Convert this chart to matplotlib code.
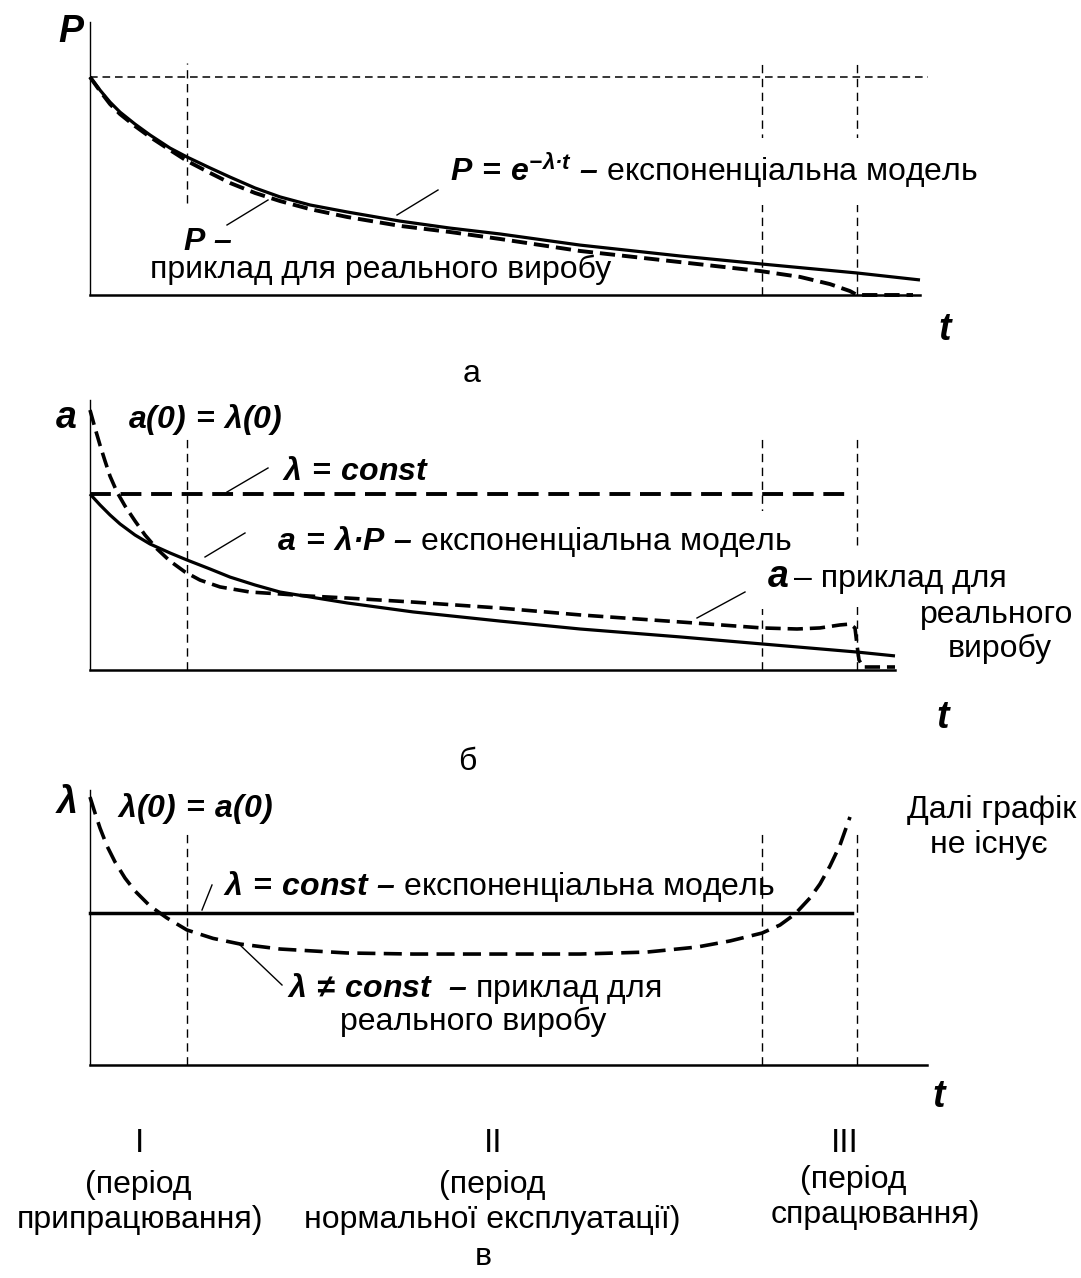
import matplotlib
matplotlib.use('Agg')
import matplotlib.pyplot as plt
from matplotlib.lines import Line2D
from matplotlib.patches import Rectangle

plt.rcParams['font.family'] = ['Liberation Sans', 'DejaVu Sans']
plt.rcParams['mathtext.fontset'] = 'custom'
for k in ('rm', 'it', 'bf', 'sf'):
    plt.rcParams['mathtext.' + k] = 'Liberation Sans:bold:italic'
plt.rcParams['lines.scale_dashes'] = False

W, H, DPI = 1081, 1278, 100
FS = 23
FS_AX = 27

# ---------------- data ----------------
# boundaries of periods I, II, III (time units)
t_bounds = [0.97, 6.72, 7.67]

# panel a: probability of failure-free operation P(t)
ta_model = [0.0, 0.10, 0.20, 0.30, 0.45, 0.60, 0.80, 0.97, 1.20, 1.40, 1.65, 1.90, 2.20, 2.57,
            3.10, 3.60, 4.10, 4.90, 5.90, 6.72, 7.67, 8.30]
Pa_model = [1.0, 0.940, 0.885, 0.839, 0.784, 0.734, 0.674, 0.633, 0.583, 0.541, 0.491, 0.450, 0.413, 0.381,
            0.339, 0.307, 0.280, 0.229, 0.179, 0.142, 0.101, 0.069]
ta_real = [0.0, 0.10, 0.20, 0.30, 0.45, 0.60, 0.80, 0.97, 1.20, 1.40, 1.65, 1.90, 2.20, 2.57,
           3.10, 3.60, 4.10, 4.90, 5.90, 6.70, 7.10, 7.40, 7.60, 7.67, 8.23]
Pa_real = [1.0, 0.936, 0.876, 0.830, 0.775, 0.725, 0.665, 0.615, 0.560, 0.514, 0.468, 0.431, 0.394, 0.358,
           0.317, 0.289, 0.257, 0.202, 0.151, 0.110, 0.083, 0.050, 0.018, 0.0, 0.0]
Pa_level = 1.0
ta_level_end = 8.38

# panel b: failure density a(t)
tb_model = [0.0, 0.10, 0.20, 0.30, 0.45, 0.60, 0.80, 0.97, 1.20, 1.40, 1.65, 1.90, 2.20, 2.57,
            3.23, 4.10, 4.90, 5.90, 6.72, 7.67, 8.05]
ab_model = [1.0, 0.938, 0.881, 0.830, 0.767, 0.716, 0.665, 0.625, 0.574, 0.528, 0.483, 0.443, 0.415, 0.381,
            0.330, 0.278, 0.233, 0.188, 0.148, 0.102, 0.080]
tb_real = [0.0, 0.05, 0.10, 0.15, 0.20, 0.27, 0.35, 0.45, 0.55, 0.67, 0.80, 0.95, 1.10, 1.30, 1.60, 1.90,
           2.20, 2.57, 3.23, 4.10, 4.90, 5.90, 6.72, 7.07, 7.30, 7.50, 7.60, 7.65, 7.67, 7.69, 7.73, 8.05]
ab_real = [1.477, 1.375, 1.278, 1.188, 1.102, 1.011, 0.932, 0.847, 0.767, 0.688, 0.619, 0.557, 0.511, 0.472,
           0.443, 0.432, 0.420, 0.409, 0.386, 0.352, 0.313, 0.273, 0.239, 0.233, 0.239, 0.256, 0.261, 0.239,
           0.142, 0.057, 0.017, 0.017]
lam_b = 1.0
tb_lam_end = 7.63

# panel c: failure rate lambda(t)
tc_model = [0.0, 7.62]
lc_model = [1.0, 1.0]
tc_real = [0.0, 0.05, 0.10, 0.17, 0.25, 0.35, 0.45, 0.60, 0.77, 0.97, 1.23, 1.50, 1.90, 2.57, 3.23, 4.90,
           5.57, 6.07, 6.40, 6.72, 6.90, 7.05, 7.20, 7.30, 7.40, 7.50, 7.60]
lc_real = [1.763, 1.658, 1.559, 1.441, 1.336, 1.230, 1.145, 1.046, 0.967, 0.888, 0.833, 0.796, 0.763, 0.737,
           0.730, 0.730, 0.743, 0.776, 0.816, 0.868, 0.921, 0.993, 1.099, 1.191, 1.309, 1.447, 1.632]

period_numbers = ['I', 'II', 'III']
period_line1 = ['(період', '(період', '(період']
period_line2 = ['припрацювання)', 'нормальної експлуатації)', 'спрацювання)']
panel_letters = ['а', 'б', 'в']

# ---------------- figure ----------------
fig = plt.figure(figsize=(W / DPI, H / DPI), dpi=DPI)
fig.patch.set_facecolor('white')


def add_panel(x1, y0, y1, scale):
    x0 = 90
    ax = fig.add_axes([x0 / W, 1 - y1 / H, (x1 - x0) / W, (y1 - y0) / H])
    ax.set_xlim(0, (x1 - x0) / 100.0)
    ax.set_ylim(0, (y1 - y0) / scale)
    ax.set_xticks([])
    ax.set_yticks([])
    ax.patch.set_visible(False)
    for s in ('top', 'right'):
        ax.spines[s].set_visible(False)
    ax.spines['left'].set_linewidth(1.0)
    ax.spines['bottom'].set_linewidth(1.8)
    return ax


def ftext(px, py, s, ha='left', size=FS, **kw):
    return fig.text(px / W, 1 - py / H, s, ha=ha, va='baseline', fontsize=size, **kw)


def leader(p0, p1):
    fig.add_artist(Line2D([p0[0] / W, p1[0] / W], [1 - p0[1] / H, 1 - p1[1] / H],
                          transform=fig.transFigure, color='k', lw=1.0, zorder=5))


def blank(x0, y0, x1, y1):
    fig.add_artist(Rectangle((x0 / W, 1 - y1 / H), (x1 - x0) / W, (y1 - y0) / H,
                             transform=fig.transFigure, fc='white', ec='none', zorder=2.9))


BOX = dict(boxstyle='square,pad=0.42', fc='white', ec='none')
SOLID = dict(color='k', lw=2.3, clip_on=False, solid_capstyle='butt', solid_joinstyle='round')
THIN = dict(color='k', lw=1.0, linestyle=(0, (6, 4)), clip_on=False)

# ---- panel a ----
axa = add_panel(920, 22, 295, 218.0)
axa.plot([0, ta_level_end], [Pa_level, Pa_level], color='k', lw=1.1, linestyle=(0, (5.5, 3.5)), clip_on=False)
axa.plot([t_bounds[0]] * 2, [0.422, 1.064], **THIN)
for tb in t_bounds[1:]:
    axa.plot([tb, tb], [0, 1.064], **THIN)
axa.plot(ta_model, Pa_model, **SOLID)
axa.plot(ta_real, Pa_real, color='k', lw=2.8, linestyle=(0, (11, 5)), clip_on=False)

ftext(58, 42, r'$\mathbf{P}$', size=FS_AX)
ftext(450, 182, r'$\mathbf{P\,=\,e^{-\lambda·t}\ –}$ експоненціальна модель', bbox=BOX)
ftext(183, 250, r'$\mathbf{P\ –}$')
ftext(150, 278, 'приклад для реального виробу')
ftext(938, 340, r'$\mathbf{t}$', size=FS_AX)
ftext(472, 382, panel_letters[0], ha='center')
leader((397, 215), (438, 190))
leader((227, 225), (268, 200))

# ---- panel b ----
axb = add_panel(895, 400, 670, 176.0)
for tb in t_bounds:
    axb.plot([tb, tb], [0, 1.324], **THIN)
axb.plot([0, tb_lam_end], [lam_b, lam_b], color='k', lw=2.8, linestyle=(0, (15, 7)), clip_on=False)
axb.plot(tb_model, ab_model, **SOLID)
axb.plot(tb_real, ab_real, color='k', lw=2.6, linestyle=(0, (11, 5)), clip_on=False)

ftext(55, 428, r'$\mathbf{a}$', size=FS_AX)
ftext(128, 428, r'$\mathbf{a(0)\,=\,\lambda(0)}$')
ftext(282, 480, r'$\mathbf{\lambda\,=\,const}$')
ftext(277, 550, r'$\mathbf{a\,=\,\lambda·P\ –}$ експоненціальна модель', bbox=BOX)
blank(754, 545, 796, 609)
ftext(767, 587, r'$\mathbf{a}$', size=FS_AX, zorder=4)
ftext(794, 587, '– приклад для', bbox=BOX, zorder=3)
ftext(997, 623, 'реального', ha='center')
ftext(1000, 657, 'виробу', ha='center')
ftext(936, 728, r'$\mathbf{t}$', size=FS_AX)
ftext(467, 770, panel_letters[1], ha='center')
leader((227, 492), (268, 468))
leader((205, 557), (245, 533))
leader((697, 618), (745, 592))

# ---- panel c ----
axc = add_panel(927, 790, 1065, 152.0)
for tb in t_bounds:
    axc.plot([tb, tb], [0, 1.533], **THIN)
axc.plot(tc_model, lc_model, color='k', lw=2.5, clip_on=False)
axc.plot(tc_real, lc_real, color='k', lw=2.6, linestyle=(0, (13, 6)), clip_on=False)

ftext(55, 813, r'$\mathbf{\lambda}$', size=FS_AX)
ftext(117, 817, r'$\mathbf{\lambda(0)\,=\,a(0)}$')
ftext(223, 895, r'$\mathbf{\lambda\,=\,const\ –}$ експоненціальна модель')
ftext(287, 997, r'$\mathbf{\lambda\,\neq\,const\ \ –}$ приклад для')
ftext(340, 1030, 'реального виробу')
ftext(907, 818, 'Далі графік')
ftext(930, 853, 'не існує')
ftext(932, 1107, r'$\mathbf{t}$', size=FS_AX)
leader((202, 910), (212, 885))
leader((240, 945), (282, 985))

num_x = [140, 493, 845]
l1_x = [138, 492, 853]
l1_y = [1193, 1193, 1188]
l2_x = [140, 492, 875]
l2_y = [1228, 1228, 1223]
for i in range(3):
    ftext(num_x[i], 1152, period_numbers[i], ha='center', size=24)
    ftext(l1_x[i], l1_y[i], period_line1[i], ha='center')
    ftext(l2_x[i], l2_y[i], period_line2[i], ha='center')
ftext(483, 1265, panel_letters[2], ha='center')

fig.savefig('out.png', dpi=DPI, facecolor='white')
